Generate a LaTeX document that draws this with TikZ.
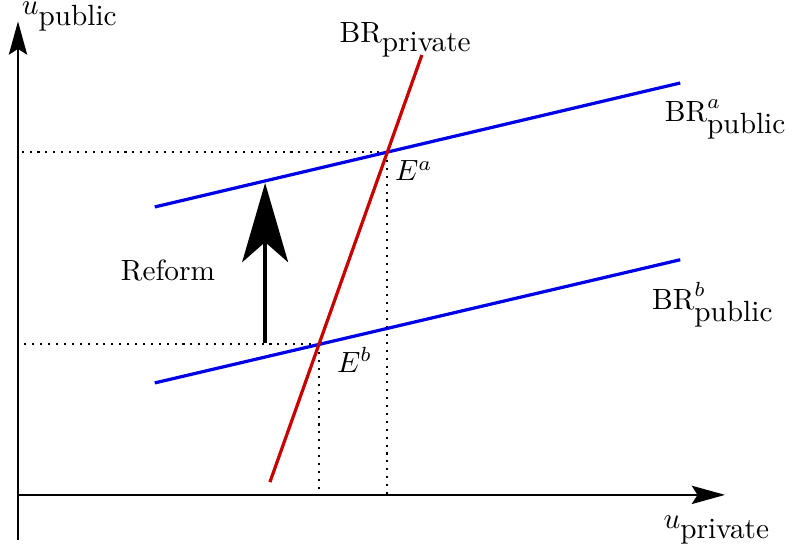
\documentclass[tikz,border=0pt]{standalone}
\usepackage{amsmath}
\usetikzlibrary{arrows.meta,positioning,calc}
\definecolor{brred}{HTML}{C80000}
\definecolor{brblue}{HTML}{0000E6}
\tikzset{
  % axes with a slim stealth tip
  axis/.style   = {-{Stealth[length=4mm,width=2.2mm,inset=0.7mm]}, line width=0.6pt},
  resp/.style   = {line width=1.1pt, draw=#1},
  resp/.default = brblue,
  guide/.style  = {dotted, line width=0.7pt},
  reform/.style = {-{Stealth[length=9.5mm,width=5.5mm,inset=2.4mm]}, line width=1.4pt},
  lbl/.style    = {inner sep=0pt},
}

\begin{document}
\begin{tikzpicture}[x=0.96cm,y=0.96cm]
\useasboundingbox (-0.225,-0.6875) rectangle (9.69,6.1875);
% axes
\coordinate (O) at (0,0);
\draw[axis] (0,-0.56) -- (0,5.92);
\draw[axis] (O) -- (8.84,0);
\node[lbl] (uy) at (0.65,5.98) {$u_{\mbox{public}}$};
\node[lbl] (ux) at (8.74,-0.44) {$u_{\mbox{private}}$};
% best responses
\coordinate (p1) at (3.15,0.16);
\coordinate (p2) at (5.05,5.5);
\coordinate (a1) at (1.71,3.6);
\coordinate (a2) at (8.28,5.15);
\coordinate (b1) at (1.71,1.4);
\coordinate (b2) at (8.28,2.94);
\coordinate (Ea) at (intersection of p1--p2 and a1--a2);
\coordinate (Eb) at (intersection of p1--p2 and b1--b2);
% equilibria
\draw[guide] (Ea) -- (Ea -| O);
\draw[guide] (Ea) -- (Ea |- O);
\draw[guide] (Eb) -- (Eb -| O);
\draw[guide] (Eb) -- (Eb |- O);
\draw[resp] (a1) -- (a2);
\draw[resp] (b1) -- (b2);
\draw[resp=brred] (p1) -- (p2);
\node[lbl] (brp) at (4.85,5.69) {$\mathrm{BR}_{\mbox{private}}$};
\node[lbl] (bra) at (8.85,4.69) {$\mathrm{BR}^a_{\mbox{public}}$};
\node[lbl] (brb) at (8.69,2.375) {$\mathrm{BR}^b_{\mbox{public}}$};
\node[lbl] (ea) at (4.95,4.05) {$E^a$};
\node[lbl] (eb) at (4.21,1.69) {$E^b$};
% shift
\coordinate (rs) at (3.09,1.9);
\coordinate (rt) at (3.09,3.9);
\draw[reform] (rs) -- (rt);
\node[lbl] (reform) at (1.875,2.81) {Reform};
\end{tikzpicture}
\end{document}
